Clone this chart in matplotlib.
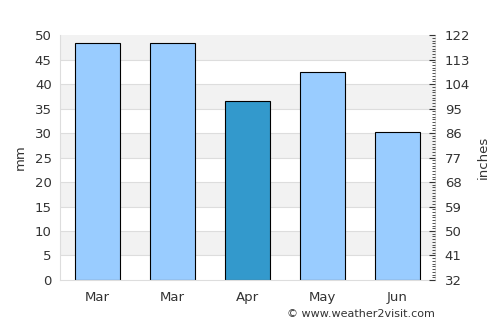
import numpy as np
import matplotlib
matplotlib.use("Agg")
from matplotlib import pyplot as plt
from matplotlib.ticker import MultipleLocator

months = ["Mar", "Mar", "Apr", "May", "Jun"]
rain_mm = [48.3, 48.3, 36.6, 42.5, 30.3]
colors = ["#99ccff", "#99ccff", "#3399cc", "#99ccff", "#99ccff"]
right_ticks = [32, 41, 50, 59, 68, 77, 86, 95, 104, 113, 122]

txt = "#333333"
fig = plt.figure(figsize=(5, 3.25), dpi=100)
ax = fig.add_axes([0.12, 0.1385, 0.75, 0.7535])

for lo in range(5, 50, 10):
    ax.axhspan(lo, lo + 5, color="#f2f2f2", zorder=0, lw=0)
for y in range(5, 50, 5):
    ax.axhline(y, color="#dddddd", lw=0.8, zorder=0.5)

x = np.arange(len(months))
ax.bar(x, rain_mm, width=0.6, color=colors, edgecolor="black", linewidth=0.8, zorder=2)
ax.set_xlim(-0.5, len(months) - 0.5)
ax.set_ylim(0, 50)
ax.set_yticks(range(0, 51, 5))
ax.set_xticks(x)
ax.set_xticklabels(months)
ax.tick_params(axis="both", length=0, colors=txt, labelsize=9.5, pad=8)
ax.tick_params(axis="y", pad=6)
for s in ["left", "bottom", "right"]:
    ax.spines[s].set_color("#dddddd")
ax.spines["top"].set_visible(False)
ax.set_ylabel("mm", color=txt, fontsize=9.5, labelpad=6)

ax2 = ax.twinx()
ax2.set_ylim(32, 122)
ax2.set_yticks(right_ticks)
ax2.yaxis.set_minor_locator(MultipleLocator(1))
ax2.tick_params(axis="y", which="major", direction="in", length=4, colors=txt, labelsize=9.5, pad=7)
ax2.tick_params(axis="y", which="minor", direction="in", length=2.5, color=txt)
for s in ax2.spines.values():
    s.set_visible(False)
ax2.set_ylabel("inches", color=txt, fontsize=9.5, labelpad=5)

fig.text(0.87, 0.035, "© www.weather2visit.com", ha="right", va="center", color=txt, fontsize=8)

fig.savefig("out.png", dpi=100)
